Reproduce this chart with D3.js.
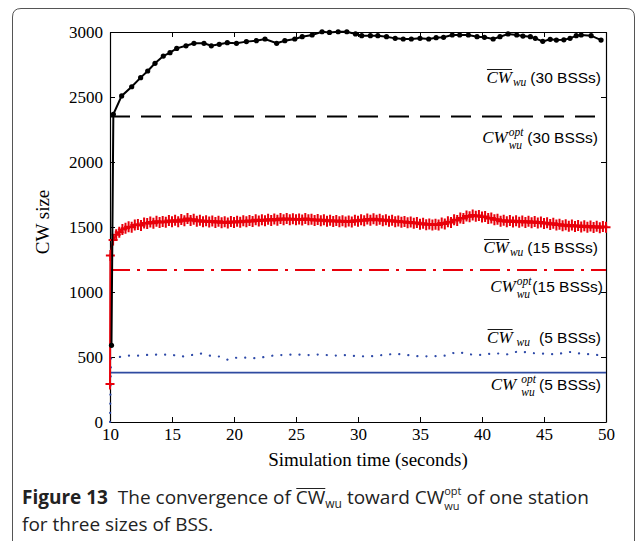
<!DOCTYPE html>
<html>
<head>
<meta charset="utf-8">
<script src="https://cdn.jsdelivr.net/npm/d3@7"></script>
<style>
  html, body { margin: 0; padding: 0; background: #fff; }
  svg { display: block; }
</style>
</head>
<body>
<svg id="chart" width="635" height="541"></svg>
<script>
// ---- data -------------------------------------------------------------
const xTicks = [10, 15, 20, 25, 30, 35, 40, 45, 50];
const yTicks = [0, 500, 1000, 1500, 2000, 2500, 3000];

// mean CW of one station, 30 BSSs (black, dots)
const cw30Time = [10.12, 10.27, 10.94, 11.75, 12.47, 13.04, 13.63, 14.3, 14.84, 15.38,
  16.13, 16.77, 17.58, 18.17, 18.81, 19.46, 20.2, 21.0, 21.8, 22.5,
  23.44, 24.1, 24.9, 25.5, 26.3, 27.1, 27.7, 28.4, 29.1, 29.8,
  30.3, 31.0, 31.6, 32.3, 33.0, 33.65, 34.3, 35.0, 35.7, 36.3,
  36.9, 37.6, 38.2, 38.9, 39.6, 40.2, 40.9, 41.45, 42.1, 42.8,
  43.3, 43.9, 44.3, 44.9, 45.5, 46.0, 46.6, 47.1, 47.6, 48.0,
  48.8, 49.6];
const cw30Value = [590, 2367, 2508, 2579, 2649, 2700, 2759, 2815, 2841, 2874,
  2894, 2913, 2913, 2894, 2905, 2918, 2913, 2926, 2933, 2946,
  2913, 2933, 2946, 2964, 2977, 3002, 2997, 3002, 3002, 2985,
  2972, 2972, 2972, 2964, 2951, 2946, 2946, 2951, 2946, 2956,
  2959, 2977, 2977, 2977, 2964, 2959, 2946, 2964, 2985, 2977,
  2969, 2964, 2951, 2928, 2944, 2938, 2940, 2951, 2972, 2977,
  2972, 2938];
const cwOpt30 = 2350;

// mean CW of one station, 15 BSSs (red, plus markers); start then every 0.25 s
const cw15Time = [10, 10.03];
const cw15Start = [292, 1280];
const cw15Step = 0.25;
const cw15Value = [
  1400, 1440, 1460, 1480,  1490, 1502, 1498, 1515,  1520, 1512, 1530, 1526,
  1538, 1528, 1545, 1535,  1542, 1536, 1550, 1540,  1552, 1540, 1558, 1548,
  1565, 1550, 1560, 1545,  1552, 1540, 1548, 1538,  1546, 1535, 1544, 1532,
  1540, 1530, 1542, 1534,  1545, 1536, 1548, 1540,  1550, 1542, 1555, 1546,
  1556, 1548, 1560, 1550,  1562, 1552, 1565, 1555,  1566, 1556, 1564, 1555,
  1562, 1553, 1565, 1556,  1560, 1550, 1558, 1548,  1555, 1545, 1552, 1542,
  1550, 1540, 1548, 1538,  1546, 1538, 1552, 1544,  1556, 1548, 1562, 1552,
  1564, 1552, 1560, 1548,  1555, 1545, 1552, 1540,  1546, 1536, 1542, 1532,
  1538, 1528, 1534, 1522,  1528, 1518, 1524, 1515,  1522, 1516, 1530, 1524,
  1540, 1535, 1556, 1550,  1570, 1566, 1585, 1578,  1592, 1582, 1588, 1576,
  1580, 1565, 1570, 1555,  1560, 1545, 1552, 1540,  1550, 1538, 1548, 1536,
  1546, 1535, 1545, 1533,  1542, 1530, 1538, 1526,  1532, 1520, 1528, 1515,
  1522, 1510, 1518, 1506,  1515, 1504, 1512, 1500,  1510, 1498, 1508, 1496,
  1506, 1495, 1504, 1498];
const cwOpt15 = 1170;

// mean CW of one station, 5 BSSs (blue, dotted)
const cw5Time = [10, 10.08, 10.54, 11.21, 11.96, 12.69, 13.36, 14.03, 14.84, 15.73,
  16.59, 17.26, 18.06, 18.87, 19.54, 20.21, 21.02, 21.83, 22.64, 23.44,
  24.11, 24.86, 26, 27, 28, 29, 30, 31, 32, 33,
  34, 35, 36, 37, 38, 39, 40, 41, 42, 43,
  44, 45, 46, 47, 48, 49, 50];
const cw5Value = [0, 490, 495, 510, 510, 510, 523, 515, 520, 503,
  515, 528, 510, 503, 477, 495, 495, 490, 503, 515,
  515, 520, 515, 520, 510, 515, 505, 505, 515, 525,
  515, 505, 505, 510, 540, 520, 515, 530, 520, 545,
  530, 525, 520, 540, 525, 520, 505];
const cwOpt5 = 380;

// ---- layout -----------------------------------------------------------
const svg = d3.select("#chart");
const serif = "'Liberation Serif', 'Times New Roman', serif";
const sans = "'Liberation Sans', Arial, sans-serif";
const capFont = "'Open Sans', 'Noto Sans', sans-serif";

const x = d3.scaleLinear().domain([10, 50]).range([110, 606]);
const y = d3.scaleLinear().domain([0, 3000]).range([422, 32]);

// figure frame
svg.append("path")
  .attr("d", "M12.5,541 V17 Q12.5,8.5 21,8.5 H626 Q634.5,8.5 634.5,17 V541")
  .attr("fill", "none").attr("stroke", "#555").attr("stroke-width", 1);

// ---- axes -------------------------------------------------------------
function styleAxis(g) {
  g.selectAll("path.domain").attr("stroke", "#000").attr("stroke-width", 1.2);
  g.selectAll(".tick line").attr("stroke", "#000").attr("stroke-width", 1);
  g.selectAll(".tick text").attr("font-family", serif).attr("font-size", 17).attr("fill", "#000");
}
const fmt = d3.format("d");
svg.append("g").attr("transform", `translate(0,${y(0)})`)
  .call(d3.axisBottom(x).tickValues(xTicks).tickFormat(fmt).tickSizeInner(-5).tickSizeOuter(0).tickPadding(6))
  .call(styleAxis);
svg.append("g").attr("transform", `translate(0,${y(3000)})`)
  .call(d3.axisTop(x).tickValues(xTicks).tickSizeInner(-5).tickSizeOuter(0).tickFormat(""))
  .call(styleAxis);
svg.append("g").attr("transform", `translate(${x(10)},0)`)
  .call(d3.axisLeft(y).tickValues(yTicks).tickFormat(fmt).tickSizeInner(-5).tickSizeOuter(0).tickPadding(7))
  .call(styleAxis);
svg.append("g").attr("transform", `translate(${x(50)},0)`)
  .call(d3.axisRight(y).tickValues(yTicks).tickSizeInner(-5).tickSizeOuter(0).tickFormat(""))
  .call(styleAxis);

svg.append("text").attr("x", 368).attr("y", 466).attr("text-anchor", "middle")
  .attr("font-family", serif).attr("font-size", 19).text("Simulation time (seconds)");
svg.append("text").attr("transform", "translate(49,222) rotate(-90)").attr("text-anchor", "middle")
  .attr("font-family", serif).attr("font-size", 19).text("CW size");

// ---- series -----------------------------------------------------------
const plot = svg.append("g");
const line = d3.line().x(d => x(d[0])).y(d => y(d[1]));

// optimal CW reference lines
plot.append("path").attr("d", line([[10, cwOpt30], [50, cwOpt30]]))
  .attr("fill", "none").attr("stroke", "#000").attr("stroke-width", 2)
  .attr("stroke-dasharray", "20,11");
plot.append("path").attr("d", line([[10, cwOpt15], [50, cwOpt15]]))
  .attr("fill", "none").attr("stroke", "#e8000b").attr("stroke-width", 2)
  .attr("stroke-dasharray", "20,7,3,7");
plot.append("path").attr("d", line([[10, cwOpt5], [50, cwOpt5]]))
  .attr("fill", "none").attr("stroke", "#2e4aa0").attr("stroke-width", 1.6);

// 5 BSSs
const cw5 = cw5Time.map((t, i) => [t, cw5Value[i]]);
plot.append("path").attr("d", line(cw5))
  .attr("fill", "none").attr("stroke", "#2e4aa8").attr("stroke-width", 2.2)
  .attr("stroke-linecap", "round").attr("stroke-dasharray", "0.1,9");

// 15 BSSs
const cw15 = cw15Time.map((t, i) => [t, cw15Start[i]])
  .concat(cw15Value.map((v, i) => [10.25 + i * cw15Step, v]));
plot.append("path").attr("d", line(cw15))
  .attr("fill", "none").attr("stroke", "#e8000b").attr("stroke-width", 2);
plot.append("g").selectAll("path").data(cw15).join("path")
  .attr("transform", d => `translate(${x(d[0])},${y(d[1])})`)
  .attr("d", "M-4.5,0H4.5M0,-5.5V5.5")
  .attr("stroke", "#e8000b").attr("stroke-width", 2).attr("fill", "none");

// 30 BSSs
const cw30 = cw30Time.map((t, i) => [t, cw30Value[i]]);
plot.append("path").attr("d", line(cw30))
  .attr("fill", "none").attr("stroke", "#000").attr("stroke-width", 2);
plot.append("g").selectAll("circle").data(cw30).join("circle")
  .attr("cx", d => x(d[0])).attr("cy", d => y(d[1])).attr("r", 2.6).attr("fill", "#000");

// ---- series labels ----------------------------------------------------
// builds "CW" (optional overline) with subscript "wu" (and optional "opt"), then the BSS count
function seriesLabel(right, base, opts) {
  const g = svg.append("g");
  let cx = 0;
  const cw = g.append("text").attr("x", 0).attr("y", 0)
    .attr("font-family", serif).attr("font-style", "italic").attr("font-size", 17).text("CW");
  const wcw = cw.node().getComputedTextLength();
  if (opts.bar) {
    g.append("line").attr("x1", 0.5).attr("x2", wcw).attr("y1", -13.5).attr("y2", -13.5)
      .attr("stroke", "#000").attr("stroke-width", 0.9);
  }
  cx = wcw + (opts.gap1 || 1);
  const idx = g.append("text")
    .attr("font-family", serif).attr("font-style", "italic").attr("font-size", 11.5);
  let adv;
  if (opts.opt) {
    const sup = idx.append("tspan").attr("x", cx).attr("y", -7).text("opt");
    const sub = idx.append("tspan").attr("x", cx).attr("y", 6).text("wu");
    adv = Math.max(sup.node().getComputedTextLength(), sub.node().getComputedTextLength());
  } else {
    const sub = idx.append("tspan").attr("x", cx).attr("y", 3).text("wu");
    adv = sub.node().getComputedTextLength();
  }
  cx += adv + (opts.gap2 || 4);
  const tail = g.append("text").attr("x", cx).attr("y", 0)
    .attr("font-family", sans).attr("font-size", 15.5).text(opts.tail);
  const total = cx + tail.node().getComputedTextLength();
  g.attr("transform", `translate(${right - total},${base})`);
}
seriesLabel(601, 83, { bar: true, tail: "(30 BSSs)", gap2: 4 });
seriesLabel(598, 143, { opt: true, tail: "(30 BSSs)", gap2: 4 });
seriesLabel(598, 253, { bar: true, tail: "(15 BSSs)", gap2: 4 });
seriesLabel(603, 292, { opt: true, tail: "(15 BSSs)", gap2: 1 });
seriesLabel(601, 343, { bar: true, tail: "(5 BSSs)", gap1: 4, gap2: 9 });
seriesLabel(601, 390, { opt: true, tail: "(5 BSSs)", gap1: 5, gap2: 3 });

// ---- caption ----------------------------------------------------------
function caption() {
  const g = svg.append("g").attr("transform", "translate(22,504)");
  const fs = 19, small = 11;
  const t = g.append("text").attr("font-family", capFont).attr("font-size", fs)
    .attr("fill", "#222").attr("xml:space", "preserve");
  let cx = 0;
  function piece(txt, o = {}) {
    const s = t.append("tspan").attr("x", cx).attr("y", o.dy || 0)
      .attr("font-size", o.size || fs).attr("font-weight", o.bold ? 700 : 400).text(txt);
    return s.node().getComputedTextLength();
  }
  cx += piece("Figure 13", { bold: true });
  cx += piece("  The convergence of ");
  const wcw = piece("CW");
  g.append("line").attr("x1", cx + 0.5).attr("x2", cx + wcw).attr("y1", -15.5).attr("y2", -15.5)
    .attr("stroke", "#222").attr("stroke-width", 1);
  cx += wcw;
  cx += piece("wu", { size: 12, dy: 4 });
  cx += piece(" toward CW");
  const w1 = piece("opt", { size: small, dy: -9.5 });
  const w2 = piece("wu", { size: small, dy: 5.5 });
  cx += Math.max(w1, w2);
  piece(" of one station");
  g.append("text").attr("x", 0).attr("y", 27)
    .attr("font-family", capFont).attr("font-size", fs).attr("fill", "#222")
    .text("for three sizes of BSS.");
}
caption();
</script>
</body>
</html>
